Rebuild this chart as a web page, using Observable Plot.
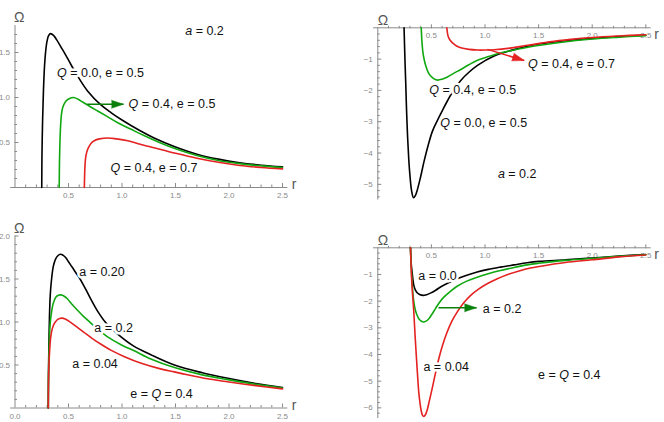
<!DOCTYPE html>
<html>
<head>
<meta charset="utf-8">
<script src="https://cdn.jsdelivr.net/npm/d3@7"></script>
<script src="https://cdn.jsdelivr.net/npm/@observablehq/plot@0.6"></script>
<style>
  body { margin: 0; background: #fff; }
  #fig { position: relative; width: 664px; height: 422px; overflow: hidden; }
  #fig > div { position: absolute; }
</style>
</head>
<body>
<div id="fig"></div>
<script>
// ---------- tick values ----------
const rMajor = [0.5, 1.0, 1.5, 2.0, 2.5];
const rMinor = [0.1, 0.2, 0.3, 0.4, 0.6, 0.7, 0.8, 0.9, 1.1, 1.2, 1.3, 1.4, 1.6, 1.7, 1.8, 1.9, 2.1, 2.2, 2.3, 2.4];
const rLabelsWithZero = [0.0, 0.5, 1.0, 1.5, 2.0, 2.5];

const wMajorA = [0.5, 1.0, 1.5];
const wMinorA = [0.1, 0.2, 0.3, 0.4, 0.6, 0.7, 0.8, 0.9, 1.1, 1.2, 1.3, 1.4, 1.6, 1.7];
const wMajorB = [-1, -2, -3, -4, -5];
const wMinorB = [-0.2, -0.4, -0.6, -0.8, -1.2, -1.4, -1.6, -1.8, -2.2, -2.4, -2.6, -2.8, -3.2, -3.4, -3.6, -3.8, -4.2, -4.4, -4.6, -4.8, -5.2, -5.4];
const wMajorC = [0.5, 1.0, 1.5, 2.0];
const wMinorC = [0.1, 0.2, 0.3, 0.4, 0.6, 0.7, 0.8, 0.9, 1.1, 1.2, 1.3, 1.4, 1.6, 1.7, 1.8, 1.9];
const wMajorD = [-1, -2, -3, -4, -5, -6];
const wMinorD = [-0.2, -0.4, -0.6, -0.8, -1.2, -1.4, -1.6, -1.8, -2.2, -2.4, -2.6, -2.8, -3.2, -3.4, -3.6, -3.8, -4.2, -4.4, -4.6, -4.8, -5.2, -5.4, -5.6, -5.8, -6.2];

// ---------- curves: [r, Ω] ----------
// Panel A: Ω > 0, a = 0.2
const omegaA_Q00_e05 = [[0.250,0],[0.252,0.35],[0.258,0.75],[0.266,1.08],[0.276,1.35],[0.288,1.53],[0.300,1.63],[0.315,1.69],[0.333,1.71],[0.360,1.69],[0.390,1.64],[0.430,1.56],[0.470,1.48],[0.530,1.35],[0.600,1.21],[0.680,1.07],[0.800,0.92],[0.900,0.83],[1.000,0.75],[1.170,0.63],[1.300,0.55],[1.500,0.45],[1.700,0.37],[1.900,0.315],[2.100,0.275],[2.300,0.248],[2.500,0.229]];
const omegaA_Q04_e05 = [[0.413,0],[0.416,0.30],[0.420,0.50],[0.426,0.68],[0.435,0.82],[0.446,0.89],[0.465,0.94],[0.485,0.97],[0.510,0.99],[0.548,1.00],[0.590,0.98],[0.632,0.95],[0.700,0.90],[0.773,0.85],[0.860,0.79],[0.960,0.72],[1.080,0.65],[1.200,0.58],[1.350,0.50],[1.500,0.43],[1.700,0.355],[1.900,0.30],[2.100,0.265],[2.300,0.240],[2.500,0.222]];
const omegaA_Q04_e07 = [[0.648,0],[0.651,0.15],[0.655,0.26],[0.660,0.33],[0.670,0.39],[0.685,0.44],[0.710,0.49],[0.741,0.52],[0.790,0.54],[0.866,0.55],[0.950,0.54],[1.053,0.52],[1.170,0.48],[1.270,0.45],[1.400,0.41],[1.500,0.38],[1.700,0.325],[1.900,0.28],[2.100,0.245],[2.300,0.223],[2.500,0.207]];

// Panel B: Ω < 0, a = 0.2
const omegaB_Q00_e05 = [[0.245,0],[0.249,-0.5],[0.254,-1.1],[0.261,-1.81],[0.268,-2.6],[0.277,-3.41],[0.288,-4.15],[0.299,-4.68],[0.315,-5.2],[0.333,-5.43],[0.350,-5.36],[0.370,-5.16],[0.400,-4.75],[0.432,-4.26],[0.470,-3.75],[0.510,-3.30],[0.560,-2.93],[0.600,-2.66],[0.650,-2.33],[0.697,-2.05],[0.774,-1.68],[0.850,-1.42],[0.930,-1.20],[1.085,-0.90],[1.300,-0.67],[1.500,-0.52],[1.750,-0.41],[2.000,-0.34],[2.250,-0.28],[2.500,-0.24]];
const omegaB_Q04_e05 = [[0.405,0],[0.410,-0.35],[0.415,-0.58],[0.420,-0.76],[0.433,-1.02],[0.448,-1.22],[0.470,-1.42],[0.494,-1.54],[0.525,-1.63],[0.557,-1.67],[0.600,-1.64],[0.650,-1.57],[0.700,-1.47],[0.774,-1.33],[0.850,-1.18],[0.930,-1.04],[1.050,-0.90],[1.150,-0.80],[1.400,-0.62],[1.700,-0.47],[2.000,-0.36],[2.250,-0.30],[2.500,-0.25]];
const omegaB_Q04_e07 = [[0.644,0],[0.648,-0.12],[0.656,-0.27],[0.675,-0.40],[0.697,-0.48],[0.735,-0.58],[0.774,-0.64],[0.850,-0.69],[0.930,-0.71],[1.000,-0.71],[1.085,-0.70],[1.250,-0.64],[1.400,-0.56],[1.600,-0.45],[1.800,-0.37],[2.000,-0.31],[2.250,-0.26],[2.500,-0.22]];

// Panel C: Ω > 0, e = Q = 0.4
const omegaC_a020 = [[0.311,0],[0.313,0.40],[0.317,0.75],[0.322,1.05],[0.327,1.25],[0.332,1.36],[0.342,1.50],[0.357,1.64],[0.375,1.72],[0.400,1.77],[0.426,1.787],[0.450,1.775],[0.473,1.75],[0.500,1.70],[0.535,1.636],[0.570,1.57],[0.598,1.52],[0.640,1.43],[0.676,1.345],[0.720,1.24],[0.770,1.13],[0.847,0.995],[0.960,0.86],[1.110,0.72],[1.270,0.62],[1.490,0.50],[1.750,0.41],[1.990,0.345],[2.250,0.285],[2.500,0.238]];
const omegaC_a02 = [[0.311,0],[0.313,0.35],[0.317,0.60],[0.323,0.85],[0.330,1.00],[0.340,1.10],[0.352,1.19],[0.367,1.25],[0.383,1.29],[0.405,1.31],[0.430,1.315],[0.460,1.30],[0.489,1.27],[0.530,1.21],[0.582,1.14],[0.645,1.06],[0.707,0.99],[0.770,0.92],[0.862,0.83],[1.000,0.73],[1.115,0.665],[1.270,0.57],[1.490,0.47],[1.750,0.385],[1.990,0.33],[2.250,0.275],[2.500,0.233]];
const omegaC_a004 = [[0.311,0],[0.313,0.30],[0.317,0.50],[0.323,0.65],[0.330,0.78],[0.338,0.86],[0.348,0.92],[0.362,0.97],[0.379,1.004],[0.400,1.03],[0.435,1.045],[0.470,1.035],[0.520,0.996],[0.580,0.94],[0.645,0.88],[0.720,0.81],[0.800,0.744],[0.900,0.67],[1.018,0.60],[1.180,0.52],[1.360,0.455],[1.490,0.42],[1.600,0.39],[1.800,0.34],[1.985,0.305],[2.250,0.26],[2.500,0.222]];

// Panel D: Ω < 0, e = Q = 0.4
const omegaD_a00 = [[0.305,0],[0.309,-0.40],[0.314,-0.70],[0.320,-0.91],[0.328,-1.20],[0.336,-1.41],[0.350,-1.58],[0.367,-1.685],[0.390,-1.75],[0.423,-1.785],[0.455,-1.76],[0.491,-1.70],[0.540,-1.59],[0.585,-1.47],[0.660,-1.31],[0.740,-1.16],[0.830,-1.03],[0.927,-0.91],[1.030,-0.81],[1.144,-0.724],[1.270,-0.64],[1.393,-0.56],[1.505,-0.51],[1.750,-0.45],[2.000,-0.38],[2.250,-0.31],[2.500,-0.25]];
const omegaD_a02 = [[0.305,0],[0.309,-0.45],[0.314,-0.90],[0.320,-1.29],[0.328,-1.72],[0.336,-2.03],[0.350,-2.33],[0.367,-2.53],[0.390,-2.70],[0.423,-2.78],[0.450,-2.75],[0.476,-2.66],[0.505,-2.49],[0.538,-2.28],[0.575,-2.05],[0.616,-1.85],[0.680,-1.62],[0.740,-1.44],[0.830,-1.25],[0.927,-1.10],[1.030,-0.97],[1.144,-0.85],[1.270,-0.74],[1.393,-0.64],[1.500,-0.58],[1.750,-0.47],[2.000,-0.40],[2.250,-0.32],[2.500,-0.26]];
const omegaD_a004 = [[0.305,0],[0.309,-0.50],[0.314,-1.04],[0.320,-1.50],[0.328,-1.95],[0.336,-2.41],[0.348,-3.30],[0.361,-4.16],[0.372,-4.85],[0.382,-5.41],[0.393,-5.80],[0.404,-6.09],[0.416,-6.27],[0.429,-6.32],[0.444,-6.26],[0.460,-6.09],[0.482,-5.72],[0.507,-5.28],[0.537,-4.72],[0.569,-4.16],[0.607,-3.62],[0.647,-3.16],[0.690,-2.76],[0.740,-2.41],[0.800,-2.07],[0.864,-1.79],[0.940,-1.55],[1.020,-1.35],[1.110,-1.17],[1.206,-1.01],[1.310,-0.88],[1.424,-0.76],[1.505,-0.70],[1.750,-0.55],[2.000,-0.45],[2.250,-0.34],[2.500,-0.27]];

// ---------- annotations ----------
const labelsA = [
  {r: 1.771, w: 1.737, text: "a = 0.2", italic: "a"},
  {r: 0.799, w: 1.27, text: "Q = 0.0, e = 0.5", italic: "Q"},
  {r: 1.467, w: 0.926, text: "Q = 0.4, e = 0.5", italic: "Q"},
  {r: 1.299, w: 0.214, text: "Q = 0.4, e = 0.7", italic: "Q"}
];
const labelsB = [
  {r: 1.806, w: -1.15, text: "Q = 0.4, e = 0.7", italic: "Q"},
  {r: 0.886, w: -1.98, text: "Q = 0.4, e = 0.5", italic: "Q"},
  {r: 0.988, w: -3.03, text: "Q = 0.0, e = 0.5", italic: "Q"},
  {r: 1.30, w: -4.66, text: "a = 0.2", italic: "a"}
];
const labelsC = [
  {r: 0.813, w: 1.579, text: "a = 0.20"},
  {r: 0.921, w: 0.933, text: "a = 0.2"},
  {r: 0.748, w: 0.509, text: "a = 0.04"},
  {r: 1.369, w: 0.16, text: "e = Q = 0.4", italic: "Q"}
];
const labelsD = [
  {r: 0.557, w: -1.04, text: "a = 0.0"},
  {r: 1.159, w: -2.30, text: "a = 0.2"},
  {r: 0.638, w: -4.48, text: "a = 0.04"},
  {r: 1.786, w: -4.76, text: "e = Q = 0.4", italic: "Q"}
];

const BLACK = "#000000", GREEN = "#10a810", RED = "#e42222", ARROW_GREEN = "#0a800a";
const arrowsA = [{r1: 0.675, w1: 0.925, r2: 1.014, w2: 0.925, color: ARROW_GREEN}];
const arrowsB = [{r1: 1.023, w1: -0.69, r2: 1.366, w2: -1.045, color: RED}];
const arrowsC = [];
const arrowsD = [{r1: 0.566, w1: -2.25, r2: 0.921, w2: -2.25, color: ARROW_GREEN}];

// ---------- drawing ----------
const AXIS = "#8a8a8a";
const FONT = "'Liberation Sans', Arial, sans-serif";
const fmtDec = d => d.toFixed(1);
const fmtInt = d => (d < 0 ? "\u2212" + Math.abs(d) : String(d));

function italicize(svg, labels) {
  const marked = new Map(labels.filter(d => d.italic).map(d => [d.text, d.italic]));
  d3.select(svg).selectAll("text").each(function () {
    const s = this.textContent, ch = marked.get(s);
    if (!ch) return;
    const i = s.indexOf(ch);
    const t = d3.select(this).text(null);
    t.append("tspan").text(s.slice(0, i));
    t.append("tspan").attr("font-style", "italic").text(ch);
    t.append("tspan").text(s.slice(i + ch.length));
  });
}

function drawPanel(p) {
  const positive = p.yDomain[0] === 0;        // r-axis sits on the bottom edge
  const xAnchor = positive ? "bottom" : "top";
  const dir = positive ? -1 : 1;              // ticks point toward +Ω
  const innerW = p.width - p.marginLeft - p.marginRight;
  const innerH = p.height - p.marginTop - p.marginBottom;
  const kx = innerW / 2.5, ky = innerH / (p.yDomain[1] - p.yDomain[0]);
  const heading = d => Math.atan2((d.r2 - d.r1) * kx, (d.w2 - d.w1) * ky) * 180 / Math.PI;

  const svg = Plot.plot({
    width: p.width, height: p.height,
    marginLeft: p.marginLeft, marginRight: p.marginRight,
    marginTop: p.marginTop, marginBottom: p.marginBottom,
    x: {domain: [0, 2.5]},
    y: {domain: p.yDomain},
    style: {fontFamily: FONT, background: "transparent"},
    marks: [
      // axes
      Plot.ruleY([0], {x1: -0.04, x2: 2.55, stroke: AXIS, strokeWidth: 1}),
      Plot.ruleX([0], {y1: p.yDomain[0], y2: p.yDomain[1], stroke: AXIS, strokeWidth: 1}),
      Plot.axisX({ticks: rMajor, anchor: xAnchor, tickSize: 4 * dir, tickFormat: () => "", stroke: AXIS, label: null}),
      Plot.axisX({ticks: rMinor, anchor: xAnchor, tickSize: 2.5 * dir, tickFormat: () => "", stroke: AXIS, label: null}),
      Plot.axisY({ticks: p.wMajor, anchor: "left", tickSize: -4, tickFormat: () => "", stroke: AXIS, label: null}),
      Plot.axisY({ticks: p.wMinor, anchor: "left", tickSize: -2.5, tickFormat: () => "", stroke: AXIS, label: null}),
      Plot.text(p.rLabels, {x: d => d, y: 0, dy: 8, text: fmtDec, fontSize: 8, fill: AXIS}),
      Plot.text(p.wMajor, {x: 0, y: d => d, dx: -5, textAnchor: "end", text: p.wFormat, fontSize: 8, fill: AXIS}),
      // curves
      ...p.curves.map(c => Plot.line(c.data, {x: d => d[0], y: d => d[1], stroke: c.color, strokeWidth: 1.6, curve: "catmull-rom"})),
      // labels
      Plot.text(p.labels, {x: "r", y: "w", text: "text", fontSize: 12.5, fill: "#111",
        stroke: "white", strokeWidth: 5, paintOrder: "stroke"}),
      // arrows
      Plot.link(p.arrows, {x1: "r1", y1: "w1", x2: "r2", y2: "w2", stroke: "color", strokeWidth: 1.5}),
      Plot.vector(p.arrows, {x: "r2", y: "w2", length: 12, rotate: heading, shape: "spike", r: 4,
        anchor: "end", fill: "color", stroke: "color", strokeWidth: 0.5}),
      // axis names
      Plot.text(["\u03A9"], {frameAnchor: "top-left", text: d => d, dx: p.omegaDx, dy: -13, fontSize: 14, fill: "#555"}),
      Plot.text(["r"], {frameAnchor: positive ? "bottom-right" : "top-right", text: d => d, dx: p.rDx, dy: 1.5, fontSize: 14, fill: "#555"})
    ]
  });
  italicize(svg, p.labels);
  const holder = document.createElement("div");
  holder.style.left = p.left + "px";
  holder.style.top = p.top + "px";
  holder.appendChild(svg);
  document.getElementById("fig").appendChild(holder);
}

const panels = [
  {left: 0, top: 0, width: 332, height: 211, marginLeft: 14.5, marginRight: 50, marginTop: 25, marginBottom: 24,
   yDomain: [0, 1.8], wMajor: wMajorA, wMinor: wMinorA, wFormat: fmtDec, rLabels: rMajor, omegaDx: -1, rDx: 14,
   curves: [{data: omegaA_Q00_e05, color: BLACK}, {data: omegaA_Q04_e05, color: GREEN}, {data: omegaA_Q04_e07, color: RED}],
   labels: labelsA, arrows: arrowsA},
  {left: 332, top: 0, width: 332, height: 211, marginLeft: 45.3, marginRight: 18.7, marginTop: 27.3, marginBottom: 11.5,
   yDomain: [-5.5, 0], wMajor: wMajorB, wMinor: wMinorB, wFormat: fmtInt, rLabels: rMajor, omegaDx: 0, rDx: 13,
   curves: [{data: omegaB_Q00_e05, color: BLACK}, {data: omegaB_Q04_e05, color: GREEN}, {data: omegaB_Q04_e07, color: RED}],
   labels: labelsB, arrows: arrowsB},
  {left: 0, top: 211, width: 332, height: 211, marginLeft: 14.5, marginRight: 50, marginTop: 24.5, marginBottom: 14.5,
   yDomain: [0, 2.0], wMajor: wMajorC, wMinor: wMinorC, wFormat: fmtDec, rLabels: rLabelsWithZero, omegaDx: -1, rDx: 14,
   curves: [{data: omegaC_a020, color: BLACK}, {data: omegaC_a02, color: GREEN}, {data: omegaC_a004, color: RED}],
   labels: labelsC, arrows: arrowsC},
  {left: 332, top: 211, width: 332, height: 211, marginLeft: 45.3, marginRight: 18.7, marginTop: 36.3, marginBottom: 4,
   yDomain: [-6.4, 0], wMajor: wMajorD, wMinor: wMinorD, wFormat: fmtInt, rLabels: rMajor, omegaDx: 0, rDx: 13,
   curves: [{data: omegaD_a00, color: BLACK}, {data: omegaD_a02, color: GREEN}, {data: omegaD_a004, color: RED}],
   labels: labelsD, arrows: arrowsD}
];
panels.forEach(drawPanel);
</script>
</body>
</html>
